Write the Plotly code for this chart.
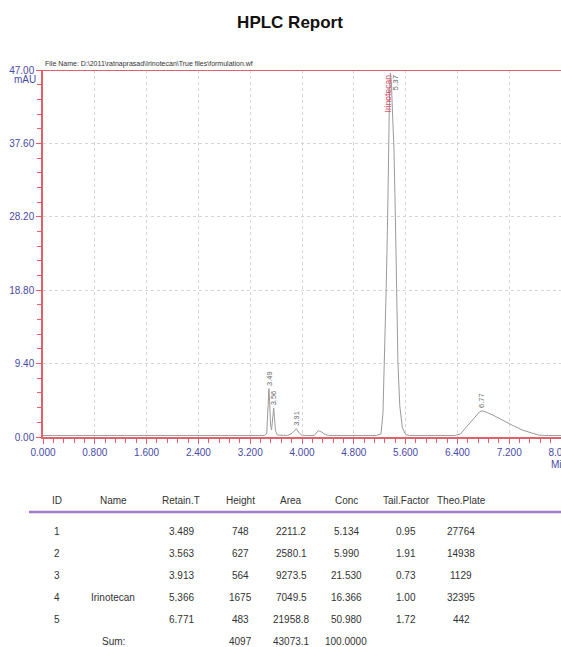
import plotly.graph_objects as go
import numpy as np

# ---------------- data ----------------
title_text = "HPLC Report"
file_name = r"File Name: D:\2011\ratnaprasad\Irinotecan\True files\formulation.wf"
y_unit = "mAU"
x_unit = "Min"

time_min = [0.00, 3.42, 3.455, 3.47, 3.48, 3.489, 3.50, 3.515, 3.53, 3.545, 3.555, 3.563,
            3.575, 3.59, 3.62, 3.70, 3.78, 3.85, 3.913, 3.95, 3.99, 4.05, 4.19, 4.25,
            4.29, 4.36, 4.42, 5.15, 5.22, 5.25, 5.272, 5.30, 5.323, 5.338, 5.352, 5.366,
            5.38, 5.40, 5.42, 5.442, 5.46, 5.482, 5.51, 5.55, 5.60, 5.66, 6.36, 6.45,
            6.52, 6.60, 6.68, 6.74, 6.78, 6.84, 6.95, 7.10, 7.25, 7.40, 7.55, 7.65,
            7.75, 8.00]
signal_mau = [0.20, 0.20, 0.40, 2.50, 5.20, 6.20, 4.50, 1.50, 0.90, 2.20, 3.40, 3.70,
              2.50, 0.80, 0.25, 0.20, 0.20, 0.50, 1.05, 0.60, 0.25, 0.20, 0.20, 0.80,
              0.70, 0.30, 0.20, 0.20, 0.40, 3.00, 9.40, 19.0, 28.2, 37.6, 44.0, 46.6,
              45.5, 41.0, 37.0, 28.2, 19.0, 9.40, 4.00, 1.20, 0.30, 0.20, 0.20, 0.40,
              1.10, 1.90, 2.70, 3.20, 3.35, 3.20, 2.80, 2.10, 1.50, 0.90, 0.45, 0.25,
              0.20, 0.20]

x_ticks = [0.0, 0.8, 1.6, 2.4, 3.2, 4.0, 4.8, 5.6, 6.4, 7.2, 8.0]
y_ticks = [0.0, 9.4, 18.8, 28.2, 37.6, 47.0]

table_headers = ["ID", "Name", "Retain.T", "Height", "Area", "Conc", "Tail.Factor", "Theo.Plate"]
peak_ids = [1, 2, 3, 4, 5]
peak_names = ["", "", "", "Irinotecan", ""]
retain_t = [3.489, 3.563, 3.913, 5.366, 6.771]
peak_height = [748, 627, 564, 1675, 483]
peak_area = [2211.2, 2580.1, 9273.5, 7049.5, 21958.8]
peak_conc = [5.134, 5.990, 21.530, 16.366, 50.980]
tail_factor = [0.95, 1.91, 0.73, 1.00, 1.72]
theo_plate = [27764, 14938, 1129, 32395, 442]
sum_label = "Sum:"
sum_conc = 100.0

# ---------------- layout geometry ----------------
W, H = 561, 647
L, R, T, B = 43, 0, 70, 210
PW, PH = W - L - R, H - T - B


def pxx(px):
    return (px - L) / PW


def pxy(py):
    return (H - B - py) / PH


RED = "#e2606a"
BLUE = "#4a4aa8"
GRAY_TXT = "#333333"
TFONT = "Liberation Sans, Arial"

fig = go.Figure()
fig.add_trace(go.Scatter(x=time_min, y=signal_mau, mode="lines",
                         line=dict(color="#9a9a9a", width=1), hoverinfo="skip",
                         showlegend=False))

axis_common = dict(showline=True, linecolor=RED, linewidth=1.5, ticks="outside",
                   tickcolor=RED, ticklen=5, tickwidth=1, zeroline=False,
                   showgrid=True, gridcolor="#d6d6d6", griddash="dot", gridwidth=1,
                   ticklabeloverflow="allow", automargin=False,
                   tickfont=dict(family="Liberation Sans, Arial", size=10, color=BLUE))

fig.update_xaxes(range=[0, 8.0], tickvals=x_ticks,
                 ticktext=["%.3f" % v for v in x_ticks],
                 minor=dict(tick0=0, dtick=0.16, ticks="outside", ticklen=4,
                            tickcolor=RED, showgrid=False),
                 **axis_common)
fig.update_yaxes(range=[0, 47.0], tickvals=y_ticks,
                 ticktext=["%.2f" % v for v in y_ticks],
                 minor=dict(tick0=0, dtick=1.88, ticks="outside", ticklen=4,
                            tickcolor=RED, showgrid=False),
                 **axis_common)

shapes = [
    dict(type="line", xref="paper", yref="y", x0=0, x1=1, y0=47, y1=47,
         line=dict(color=RED, width=2)),
    dict(type="line", xref="paper", yref="paper", x0=pxx(29), x1=pxx(561),
         y0=pxy(512), y1=pxy(512), line=dict(color="#a07ecb", width=2.5)),
]

ann = []
# file name and units
ann.append(dict(text=file_name, xref="paper", yref="paper", x=0, y=pxy(70),
                xanchor="left", yanchor="bottom", showarrow=False,
                font=dict(family=TFONT, size=7, color=GRAY_TXT)))
ann.append(dict(text=y_unit, xref="paper", yref="paper", x=pxx(25), y=pxy(80),
                xanchor="center", yanchor="middle", showarrow=False,
                font=dict(family="Liberation Sans, Arial", size=10, color=BLUE)))
ann.append(dict(text=x_unit, xref="paper", yref="paper", x=pxx(549), y=pxy(464),
                xanchor="left", yanchor="middle", showarrow=False,
                font=dict(family="Liberation Sans, Arial", size=10, color=BLUE)))

# peak labels
ymax = 47.0
for rt, nm in zip(retain_t, peak_names):
    apex = float(np.interp(rt, time_min, signal_mau))
    lab = "%.2f" % rt
    if apex > 40:
        ann.append(dict(text=lab, x=rt, y=ymax, xref="x", yref="y", textangle=-90,
                        xanchor="center", yanchor="top", yshift=-2, xshift=5,
                        showarrow=False,
                        font=dict(family=TFONT, size=8, color="#6a6a6a")))
        if nm:
            ann.append(dict(text=nm, x=rt, y=ymax, xref="x", yref="y", textangle=-90,
                            xanchor="center", yanchor="top", yshift=-2, xshift=-2,
                            showarrow=False,
                            font=dict(family=TFONT, size=8.5, color="#d24a64")))
    else:
        ann.append(dict(text=lab, x=rt, y=apex, xref="x", yref="y", textangle=-90,
                        xanchor="center", yanchor="bottom", yshift=1,
                        showarrow=False,
                        font=dict(family=TFONT, size=7.5, color="#6a6a6a")))

# table
col_px = [57, 113, 181, 240, 291, 346, 406, 461]
header_py = 501
row_py = [531, 553, 575, 597, 619]
sum_py = 641
tfont = dict(family=TFONT, size=10, color=GRAY_TXT)


def cell(txt, cx, cy):
    ann.append(dict(text=txt, xref="paper", yref="paper", x=pxx(cx), y=pxy(cy),
                    xanchor="center", yanchor="middle", showarrow=False, font=tfont))


for h, cx in zip(table_headers, col_px):
    cell(h, cx, header_py)

for i in range(len(peak_ids)):
    vals = [str(peak_ids[i]), peak_names[i], "%.3f" % retain_t[i], str(peak_height[i]),
            "%.1f" % peak_area[i], "%.3f" % peak_conc[i], "%.2f" % tail_factor[i],
            str(theo_plate[i])]
    for v, cx in zip(vals, col_px):
        if v:
            cell(v, cx, row_py[i])

cell(sum_label, col_px[1], sum_py)
cell(str(sum(peak_height)), col_px[3], sum_py)
cell("%.1f" % sum(peak_area), col_px[4], sum_py)
cell("%.4f" % sum_conc, col_px[5], sum_py)

fig.update_layout(
    width=W, height=H,
    margin=dict(l=L, r=R, t=T, b=B, pad=0, autoexpand=False),
    paper_bgcolor="white", plot_bgcolor="white",
    title=dict(text="<b>%s</b>" % title_text, x=290 / W, xanchor="center",
               y=1 - 22 / H, yanchor="middle",
               font=dict(family="Liberation Sans, Arial", size=17, color="#111111")),
    shapes=shapes, annotations=ann, showlegend=False,
)

fig.write_html("out.html", config={"displayModeBar": False},
               post_script="document.body.style.margin='0';"
                           "document.body.style.overflow='hidden';")
